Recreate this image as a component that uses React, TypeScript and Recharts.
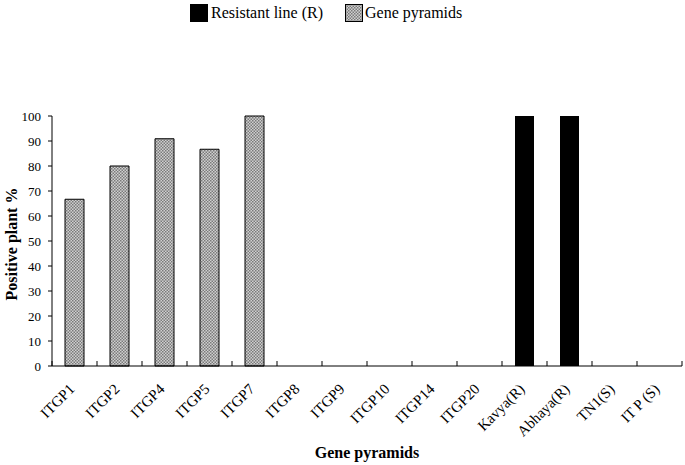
import React from "react";
import { BarChart, Bar, XAxis, YAxis } from "recharts";

const CATEGORIES = ["ITGP1", "ITGP2", "ITGP4", "ITGP5", "ITGP7", "ITGP8", "ITGP9", "ITGP10", "ITGP14", "ITGP20", "Kavya(R)", "Abhaya(R)", "TN1(S)", "IT P (S)"];
const PYRAMID_VALUES = [66.7, 80, 90.9, 86.7, 100, 0, 0, 0, 0, 0, 0, 0, 0, 0];
const RESISTANT_VALUES = [0, 0, 0, 0, 0, 0, 0, 0, 0, 0, 100, 100, 0, 0];
const Y_TICKS = [0, 10, 20, 30, 40, 50, 60, 70, 80, 90, 100];

const data = CATEGORIES.map((name, i) => ({ name, pyramid: PYRAMID_VALUES[i], resistant: RESISTANT_VALUES[i] }));

const W = 685;
const H = 465;
const MARGIN = { top: 116, right: 3, bottom: 0, left: 0 };
const Y_AXIS_W = 52;
const BAND = (W - MARGIN.left - MARGIN.right - Y_AXIS_W) / CATEGORIES.length;
const FONT = "'Liberation Serif', 'Times New Roman', serif";

// category labels at -45deg, tick marks on the band edges pointing up
const XTick = (props: any) => {
  const { x, y, payload, index } = props;
  return (
    <g>
      <line x1={x + BAND / 2} y1={y - 5} x2={x + BAND / 2} y2={y} stroke="#000" />
      {index === 0 && <line x1={x - BAND / 2} y1={y - 5} x2={x - BAND / 2} y2={y} stroke="#000" />}
      <g transform={`translate(${x + 1}, ${y + 24})`}>
        <text x={0} y={0} transform="rotate(-45)" textAnchor="end" fontFamily={FONT} fontSize={15} fill="#000">
          {payload.value}
        </text>
      </g>
    </g>
  );
};

const YLabel = (props: any) => {
  const { viewBox } = props;
  const cx = 17;
  const cy = viewBox.y + viewBox.height / 2 + 3;
  return (
    <text x={cx} y={cy} transform={`rotate(-90, ${cx}, ${cy})`} textAnchor="middle" fontFamily={FONT} fontSize={16} fontWeight="bold" fill="#000">
      Positive plant %
    </text>
  );
};

const XLabel = (props: any) => {
  const { viewBox } = props;
  return (
    <text x={viewBox.x + viewBox.width / 2} y={458} textAnchor="middle" fontFamily={FONT} fontSize={16} fontWeight="bold" fill="#000">
      Gene pyramids
    </text>
  );
};

export default function App() {
  return (
    <div style={{ position: "fixed", left: 0, top: 0, width: W, height: H, background: "#fff" }}>
      <svg width={0} height={0} style={{ position: "absolute" }}>
        <defs>
          <pattern id="hatch" width="3" height="3" patternUnits="userSpaceOnUse">
            <rect width="3" height="3" fill="#d0d0d0" />
            <rect width="1.5" height="1.5" fill="#7a7a7a" />
            <rect x="1.5" y="1.5" width="1.5" height="1.5" fill="#7a7a7a" />
          </pattern>
        </defs>
      </svg>
      <div style={{ position: "absolute", top: 4, left: 190, display: "flex", alignItems: "center", fontFamily: FONT, fontSize: 16, color: "#000" }}>
        <span style={{ width: 18, height: 18, background: "#000", marginRight: 3 }} />
        <span style={{ marginRight: 22 }}>Resistant line (R)</span>
        <svg width={18} height={18} style={{ marginRight: 2 }}>
          <rect x={0.5} y={0.5} width={17} height={17} fill="url(#hatch)" stroke="#000" />
        </svg>
        <span>Gene pyramids</span>
      </div>
      <BarChart width={W} height={H} data={data} margin={MARGIN} barSize={19} barCategoryGap={0}>
        <XAxis dataKey="name" interval={0} height={99} tickLine={false} tickSize={0} tickMargin={0} axisLine={{ stroke: "#000" }} tick={<XTick />} label={<XLabel />} />
        <YAxis domain={[0, 100]} ticks={Y_TICKS} width={Y_AXIS_W} tickLine={{ stroke: "#000" }} tickSize={4} axisLine={{ stroke: "#000" }}
          tick={{ fontFamily: FONT, fontSize: 13, fill: "#000" }} tickMargin={7} label={<YLabel />} />
        <Bar dataKey="resistant" stackId="a" fill="#000" isAnimationActive={false} />
        <Bar dataKey="pyramid" stackId="a" fill="url(#hatch)" stroke="#000" strokeWidth={1} isAnimationActive={false} />
      </BarChart>
    </div>
  );
}
